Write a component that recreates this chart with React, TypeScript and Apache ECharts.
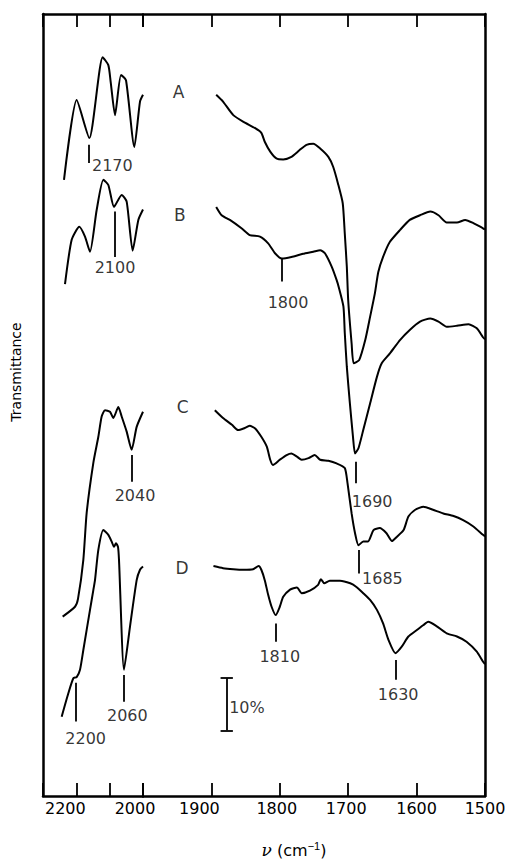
import React, { useEffect, useRef } from "react";
import * as echarts from "echarts";

// wavenumber (cm-1), transmittance (% units, traces offset)
const aLeft: number[][] = [[2237,118.2],[2199,133.5],[2161,126.2],[2121,141.7],[2104,140.2],[2097,137.0],[2084,130.6],[2066,138.3],[2051,137.3],[2026,124.5],[2009,133.2],[2000,134.5]];
const bLeft: number[][] = [[2234,98.2],[2214,106.7],[2191,109.2],[2174,107.3],[2159,104.4],[2139,112.4],[2119,118.2],[2104,117.2],[2087,113.0],[2064,115.3],[2049,114.0],[2031,104.6],[2014,110.5],[2000,112.5]];
const cLeft: number[][] = [[2241,34.4],[2204,36.3],[2195,37.8],[2179,45.3],[2169,54.3],[2149,63.9],[2134,68.9],[2124,72.8],[2114,74.0],[2099,73.7],[2089,72.5],[2074,74.6],[2064,72.8],[2049,69.9],[2034,66.4],[2019,70.8],[2000,73.7]];
const dLeft: number[][] = [[2244,15.2],[2224,19.7],[2209,22.6],[2199,22.8],[2189,24.2],[2179,28.0],[2159,35.7],[2149,39.5],[2144,41.4],[2134,47.2],[2119,51.0],[2104,50.1],[2094,48.8],[2087,47.8],[2081,48.5],[2075,47.8],[2072,45.3],[2057,24.2],[2039,32.5],[2019,41.4],[2009,43.4],[2000,44.0]];

const aRight: number[][] = [[1893,134.5],[1883,133.2],[1868,130.6],[1853,129.3],[1836,128.1],[1827,127.2],[1822,125.5],[1814,123.6],[1805,122.3],[1795,122.1],[1783,122.6],[1771,123.9],[1761,124.9],[1751,125.1],[1741,124.2],[1729,122.6],[1722,120.7],[1715,117.5],[1708,113.7],[1705,107.9],[1702,101.5],[1700,95.1],[1695,86.8],[1692,83.0],[1684,83.6],[1675,87.5],[1668,91.9],[1661,96.4],[1656,100.5],[1649,103.4],[1639,106.3],[1624,108.6],[1610,110.5],[1595,111.4],[1580,112.1],[1568,111.4],[1556,110.0],[1541,110.0],[1529,110.5],[1517,109.9],[1503,108.9],[1500,108.7]];
const bRight: number[][] = [[1893,113.0],[1885,111.4],[1873,110.5],[1856,108.9],[1844,107.6],[1829,107.3],[1817,106.0],[1807,104.1],[1797,103.1],[1783,103.4],[1766,104.0],[1751,104.4],[1741,104.7],[1734,104.1],[1724,101.5],[1717,99.0],[1714,97.7],[1707,93.9],[1705,88.8],[1702,82.3],[1698,76.0],[1693,68.9],[1690,65.7],[1685,66.7],[1678,70.2],[1668,75.3],[1658,80.4],[1651,83.0],[1639,84.9],[1624,87.5],[1610,89.4],[1595,91.0],[1580,91.6],[1568,91.0],[1556,90.0],[1541,90.2],[1524,90.5],[1512,89.7],[1503,88.0],[1500,87.6]];
const cRight: number[][] = [[1895,74.0],[1883,72.5],[1870,71.2],[1861,70.2],[1853,70.5],[1844,71.0],[1836,70.5],[1827,68.9],[1819,67.0],[1814,64.5],[1810,63.5],[1800,64.5],[1790,65.4],[1783,65.7],[1775,65.1],[1768,64.5],[1758,64.8],[1749,65.4],[1741,64.5],[1729,64.3],[1717,63.8],[1705,62.9],[1701,60.0],[1695,54.2],[1690,50.4],[1685,48.1],[1678,48.8],[1671,48.8],[1663,51.0],[1654,51.4],[1644,50.4],[1636,48.9],[1629,49.7],[1619,51.0],[1612,53.6],[1602,54.9],[1590,55.5],[1576,54.9],[1561,54.2],[1546,53.7],[1532,52.9],[1517,51.7],[1503,50.1],[1500,49.8]];
const dRight: number[][] = [[1897,44.1],[1883,43.7],[1868,43.5],[1853,43.4],[1839,43.5],[1831,44.1],[1827,43.4],[1822,41.4],[1817,38.6],[1812,36.3],[1806,34.7],[1800,36.3],[1795,38.2],[1785,39.6],[1775,40.0],[1768,38.9],[1756,39.4],[1744,40.5],[1740,41.6],[1735,40.8],[1727,41.3],[1712,41.3],[1697,40.8],[1688,40.1],[1678,38.9],[1668,37.6],[1658,35.7],[1649,33.1],[1641,29.9],[1631,27.4],[1622,28.6],[1612,30.6],[1600,31.8],[1590,32.8],[1583,33.4],[1571,32.6],[1556,31.2],[1541,30.6],[1527,29.6],[1512,27.7],[1503,25.8],[1500,25.3]];

// peak annotations: [wavenumber, tick top, tick bottom, label x, label y, text]
const leftPeaks: (number | string)[][] = [
  [2162, 124.9, 121.4, 2092, 121.0, "2170"],
  [2084, 112.1, 103.4, 2084, 101.3, "2100"],
  [2034, 65.4, 60.3, 2024, 57.7, "2040"],
  [2057, 23.2, 18.1, 2047, 15.5, "2060"],
  [2201, 21.7, 14.3, 2172, 11.1, "2200"],
];
const rightPeaks: (number | string)[][] = [
  [1797, 103.1, 98.7, 1788, 94.7, "1800"],
  [1689, 64.1, 60.0, 1665, 56.5, "1690"],
  [1684, 47.2, 42.7, 1650, 41.8, "1685"],
  [1806, 33.1, 29.6, 1800, 26.7, "1810"],
  [1630, 26.1, 22.3, 1627, 19.4, "1630"],
];
const traceNames = ["A", "B", "C", "D"];
const traceNamePos: number[][] = [[1948, 135.1], [1946, 111.4], [1942, 74.7], [1943, 43.7]];
const scaleBar = { x: 1877.6, from: 12.6, to: 22.6, text: "10%", textX: 1848, textY: 16.9 };
const leftTickLabels = [2200, 2000];
const rightTickLabels = [1900, 1800, 1700, 1600, 1500];

const FONT = "DejaVu Sans";
const FS = 16;
const labelShift: Record<number, number> = { 2200: 11, 2000: 8, 1900: 12, 1800: 3, 1700: 2, 1600: 0, 1500: 0 };

export default function App() {
  const ref = useRef<HTMLDivElement>(null);
  useEffect(() => {
    if (!ref.current) return;
    const chart = echarts.init(ref.current, null, { renderer: "svg" });
    const rich: Record<string, any> = {};
    Object.keys(labelShift).forEach((k) => {
      rich["t" + k] = { fontSize: FS, fontFamily: FONT, color: "#000", padding: [0, 2 * labelShift[+k], 0, 0] };
    });
    const axisLineStyle = { color: "#000", width: 2.5 };
    const tick = { show: true, inside: true, length: 13, lineStyle: { color: "#000", width: 1.8 } };
    const mkX = (gridIndex: number, min: number, max: number, pos: string, labels: number[] | null) => ({
      type: "value", gridIndex, min, max, interval: 100, inverse: true, position: pos,
      axisLine: { show: true, onZero: false, lineStyle: axisLineStyle },
      axisTick: tick, splitLine: { show: false },
      axisLabel: labels
        ? { show: true, margin: 4, rich, formatter: (v: number) => (labels.indexOf(v) >= 0 ? `{t${v}|${v}}` : "") }
        : { show: false },
    });
    const mkY = (gridIndex: number, pos: string) => ({
      type: "value", gridIndex, min: 0, max: 150, position: pos,
      axisLine: { show: true, lineStyle: axisLineStyle }, axisTick: { show: false },
      axisLabel: { show: false }, splitLine: { show: false },
    });
    const line = (data: number[][], xi: number, yi: number) => ({
      type: "line", data, xAxisIndex: xi, yAxisIndex: yi, showSymbol: false, smooth: 0.2,
      lineStyle: { color: "#000", width: 2 }, silent: true,
    });
    const textLabel = { show: true, position: "inside", formatter: "{b}", color: "#000", fontSize: FS, fontFamily: FONT };
    const markStyle = { color: "#000", width: 1.8, type: "solid" };

    const leftLabelData = leftPeaks.map((p) => ({ name: p[5], value: [p[3], p[4]] }));
    const rightLabelData = [
      ...rightPeaks.map((p) => ({ name: p[5], value: [p[3], p[4]] })),
      ...traceNames.map((n, i) => ({ name: n, value: traceNamePos[i], label: { fontSize: 17 } })),
      { name: scaleBar.text, value: [scaleBar.textX, scaleBar.textY] },
    ];
    const capHalf = 9;
    chart.setOption({
      animation: false,
      backgroundColor: "#fff",
      grid: [
        { left: 43, top: 14, width: 100, height: 782 },
        { left: 143, top: 14, width: 342, height: 782 },
      ],
      xAxis: [
        mkX(0, 2000, 2300, "bottom", leftTickLabels),
        mkX(0, 2000, 2300, "top", null),
        mkX(1, 1500, 2000, "bottom", rightTickLabels),
        mkX(1, 1500, 2000, "top", null),
      ],
      yAxis: [mkY(0, "left"), mkY(1, "right")],
      series: [
        line(aLeft, 0, 0), line(bLeft, 0, 0), line(cLeft, 0, 0), line(dLeft, 0, 0),
        line(aRight, 2, 1), line(bRight, 2, 1), line(cRight, 2, 1), line(dRight, 2, 1),
        {
          type: "scatter", xAxisIndex: 0, yAxisIndex: 0, symbolSize: 1, itemStyle: { color: "transparent" },
          data: leftLabelData, label: textLabel, silent: true,
          markLine: {
            symbol: ["none", "none"], silent: true, label: { show: false }, lineStyle: markStyle,
            data: leftPeaks.map((p) => [{ coord: [p[0], p[1]] }, { coord: [p[0], p[2]] }]),
          },
        },
        {
          type: "scatter", xAxisIndex: 2, yAxisIndex: 1, symbolSize: 1, itemStyle: { color: "transparent" },
          data: rightLabelData, label: textLabel, silent: true,
          markLine: {
            symbol: ["none", "none"], silent: true, label: { show: false }, lineStyle: markStyle,
            data: [
              ...rightPeaks.map((p) => [{ coord: [p[0], p[1]] }, { coord: [p[0], p[2]] }]),
              [{ coord: [scaleBar.x, scaleBar.from] }, { coord: [scaleBar.x, scaleBar.to] }],
              [{ coord: [scaleBar.x - capHalf, scaleBar.from] }, { coord: [scaleBar.x + capHalf, scaleBar.from] }],
              [{ coord: [scaleBar.x - capHalf, scaleBar.to] }, { coord: [scaleBar.x + capHalf, scaleBar.to] }],
            ],
          },
        },
      ],
      graphic: [
        {
          type: "text", x: 16, y: 372, rotation: Math.PI / 2,
          style: { text: "Transmittance", fill: "#000", fontSize: 14, fontFamily: FONT, textAlign: "center", textVerticalAlign: "middle" },
        },
        {
          type: "text", x: 294, y: 850,
          style: {
            text: "{i|ν} (cm{s|−1})", fill: "#000", fontSize: FS, fontFamily: FONT, textAlign: "center", textVerticalAlign: "middle",
            rich: { i: { fontStyle: "italic", fontSize: 17, fontFamily: "DejaVu Serif" }, s: { fontSize: 11, verticalAlign: "top", padding: [0, 0, 8, 0] } },
          },
        },
      ],
    });
    return () => chart.dispose();
  }, []);
  return <div ref={ref} style={{ position: "fixed", left: 0, top: 0, width: 512, height: 860, background: "#fff" }} />;
}
